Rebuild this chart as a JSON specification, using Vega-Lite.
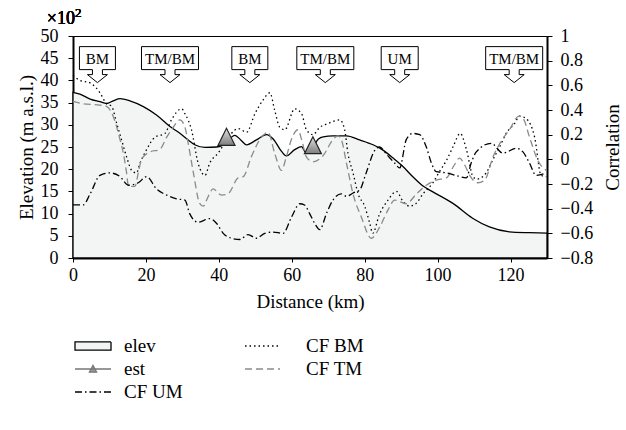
{
  "$schema": "https://vega.github.io/schema/vega-lite/v6.json",
  "width": 474,
  "height": 222,
  "autosize": "none",
  "padding": {"left": 73, "top": 36, "right": 79, "bottom": 172},
  "background": "white",
  "datasets": {
    "elev": [
      {"km": 0, "elev": 37.3}, {"km": 1.9, "elev": 36.9}, {"km": 4.7, "elev": 35.8}, {"km": 7.4, "elev": 35.2},
      {"km": 9.2, "elev": 34.8}, {"km": 11, "elev": 35.4}, {"km": 12.9, "elev": 35.9}, {"km": 15.6, "elev": 35.4},
      {"km": 19.3, "elev": 34.1}, {"km": 22.9, "elev": 32.2}, {"km": 26.6, "elev": 29.6}, {"km": 29.3, "elev": 28.1},
      {"km": 31.6, "elev": 26.6}, {"km": 33.4, "elev": 25.5}, {"km": 36.2, "elev": 24.9}, {"km": 39.4, "elev": 25.0},
      {"km": 41.5, "elev": 25.6}, {"km": 44.4, "elev": 27.6}, {"km": 46, "elev": 26.6}, {"km": 47.6, "elev": 25.5},
      {"km": 50.3, "elev": 26.6}, {"km": 53.1, "elev": 27.8}, {"km": 54.9, "elev": 26.8}, {"km": 57.2, "elev": 24.0},
      {"km": 58.5, "elev": 23.0}, {"km": 60.8, "elev": 24.4}, {"km": 62.7, "elev": 25.1}, {"km": 63.8, "elev": 23.8},
      {"km": 65.2, "elev": 24.2}, {"km": 67.3, "elev": 26.8}, {"km": 68.6, "elev": 27.3}, {"km": 71.3, "elev": 27.5},
      {"km": 75, "elev": 27.5}, {"km": 78.6, "elev": 26.6}, {"km": 82.3, "elev": 25.5}, {"km": 85, "elev": 24.3},
      {"km": 87.8, "elev": 22.5}, {"km": 90.5, "elev": 20.6}, {"km": 93.2, "elev": 18.3}, {"km": 96, "elev": 16.2},
      {"km": 98.7, "elev": 14.9}, {"km": 104.2, "elev": 12.3}, {"km": 109.7, "elev": 8.9}, {"km": 114.2, "elev": 7.0},
      {"km": 119.7, "elev": 5.9}, {"km": 125.2, "elev": 5.7}, {"km": 130, "elev": 5.6}
    ],
    "est": [
      {"km": 42.1, "elev": 27.3, "series": "est"},
      {"km": 65.8, "elev": 25.4, "series": "est"}
    ],
    "callouts": [
      {"km": 6.7, "label": "BM"},
      {"km": 26.6, "label": "TM/BM"},
      {"km": 48.5, "label": "BM"},
      {"km": 69.2, "label": "TM/BM"},
      {"km": 89.6, "label": "UM"},
      {"km": 121, "label": "TM/BM"}
    ],
    "corr": [
      {"series": "CF BM", "km": 0, "corr": 0.68}, {"series": "CF BM", "km": 1.9, "corr": 0.64}, {"series": "CF BM", "km": 4.7, "corr": 0.62},
      {"series": "CF BM", "km": 7.4, "corr": 0.54}, {"series": "CF BM", "km": 9.2, "corr": 0.45}, {"series": "CF BM", "km": 10.6, "corr": 0.43},
      {"series": "CF BM", "km": 12, "corr": 0.29}, {"series": "CF BM", "km": 13.3, "corr": 0.16}, {"series": "CF BM", "km": 14.7, "corr": 0.02},
      {"series": "CF BM", "km": 16.1, "corr": -0.09}, {"series": "CF BM", "km": 17.4, "corr": -0.11}, {"series": "CF BM", "km": 18.4, "corr": -0.03},
      {"series": "CF BM", "km": 20.2, "corr": 0.08}, {"series": "CF BM", "km": 22.5, "corr": 0.18}, {"series": "CF BM", "km": 25.2, "corr": 0.21},
      {"series": "CF BM", "km": 27, "corr": 0.32}, {"series": "CF BM", "km": 29.8, "corr": 0.41}, {"series": "CF BM", "km": 30.7, "corr": 0.37},
      {"series": "CF BM", "km": 32.5, "corr": 0.24}, {"series": "CF BM", "km": 34.3, "corr": -0.03}, {"series": "CF BM", "km": 36.2, "corr": -0.13},
      {"series": "CF BM", "km": 37.5, "corr": -0.03}, {"series": "CF BM", "km": 39.8, "corr": 0.05}, {"series": "CF BM", "km": 41.6, "corr": 0.13},
      {"series": "CF BM", "km": 45.3, "corr": 0.25}, {"series": "CF BM", "km": 47.6, "corr": 0.22}, {"series": "CF BM", "km": 49.9, "corr": 0.37},
      {"series": "CF BM", "km": 52.1, "corr": 0.48}, {"series": "CF BM", "km": 54, "corr": 0.54}, {"series": "CF BM", "km": 55.3, "corr": 0.40},
      {"series": "CF BM", "km": 56.7, "corr": 0.26}, {"series": "CF BM", "km": 58.1, "corr": 0.24}, {"series": "CF BM", "km": 60.8, "corr": 0.41},
      {"series": "CF BM", "km": 62.7, "corr": 0.37}, {"series": "CF BM", "km": 64, "corr": 0.24}, {"series": "CF BM", "km": 65.8, "corr": 0.20},
      {"series": "CF BM", "km": 67.7, "corr": 0.26}, {"series": "CF BM", "km": 69.9, "corr": 0.29}, {"series": "CF BM", "km": 73.2, "corr": 0.32},
      {"series": "CF BM", "km": 74.5, "corr": 0.24}, {"series": "CF BM", "km": 75.4, "corr": 0.05}, {"series": "CF BM", "km": 76.8, "corr": -0.11},
      {"series": "CF BM", "km": 78.2, "corr": -0.28}, {"series": "CF BM", "km": 80, "corr": -0.38}, {"series": "CF BM", "km": 81.4, "corr": -0.52},
      {"series": "CF BM", "km": 82.2, "corr": -0.6}, {"series": "CF BM", "km": 84, "corr": -0.45}, {"series": "CF BM", "km": 86.4, "corr": -0.33},
      {"series": "CF BM", "km": 88.7, "corr": -0.26}, {"series": "CF BM", "km": 90.5, "corr": -0.34}, {"series": "CF BM", "km": 92.3, "corr": -0.38},
      {"series": "CF BM", "km": 94, "corr": -0.36}, {"series": "CF BM", "km": 96, "corr": -0.28}, {"series": "CF BM", "km": 98.7, "corr": -0.19},
      {"series": "CF BM", "km": 100.5, "corr": -0.1}, {"series": "CF BM", "km": 102.4, "corr": -0.01}, {"series": "CF BM", "km": 104.2, "corr": 0.1},
      {"series": "CF BM", "km": 106.2, "corr": 0.21}, {"series": "CF BM", "km": 107.9, "corr": 0.08}, {"series": "CF BM", "km": 109.7, "corr": -0.14},
      {"series": "CF BM", "km": 110.8, "corr": -0.16}, {"series": "CF BM", "km": 113.3, "corr": -0.11}, {"series": "CF BM", "km": 115.2, "corr": 0.0},
      {"series": "CF BM", "km": 117, "corr": 0.10}, {"series": "CF BM", "km": 118.8, "corr": 0.21}, {"series": "CF BM", "km": 121.1, "corr": 0.29},
      {"series": "CF BM", "km": 122.5, "corr": 0.35}, {"series": "CF BM", "km": 124.3, "corr": 0.33}, {"series": "CF BM", "km": 126.6, "corr": 0.18},
      {"series": "CF BM", "km": 128.4, "corr": -0.13}, {"series": "CF BM", "km": 129.8, "corr": -0.14},

      {"series": "CF TM", "km": 0, "corr": 0.47}, {"series": "CF TM", "km": 2.8, "corr": 0.45}, {"series": "CF TM", "km": 7.4, "corr": 0.44},
      {"series": "CF TM", "km": 9.2, "corr": 0.43}, {"series": "CF TM", "km": 11, "corr": 0.35}, {"series": "CF TM", "km": 12.9, "corr": 0.16},
      {"series": "CF TM", "km": 13.8, "corr": 0.05}, {"series": "CF TM", "km": 14.7, "corr": -0.11}, {"series": "CF TM", "km": 15.2, "corr": -0.22},
      {"series": "CF TM", "km": 17, "corr": -0.22}, {"series": "CF TM", "km": 17.9, "corr": -0.11}, {"series": "CF TM", "km": 18.8, "corr": 0.0},
      {"series": "CF TM", "km": 21.1, "corr": 0.06}, {"series": "CF TM", "km": 23.8, "corr": 0.08}, {"series": "CF TM", "km": 25.7, "corr": 0.18},
      {"series": "CF TM", "km": 27.5, "corr": 0.26}, {"series": "CF TM", "km": 29.3, "corr": 0.32}, {"series": "CF TM", "km": 30.7, "corr": 0.26},
      {"series": "CF TM", "km": 31.6, "corr": 0.13}, {"series": "CF TM", "km": 32.9, "corr": -0.09}, {"series": "CF TM", "km": 34.8, "corr": -0.36},
      {"series": "CF TM", "km": 35.7, "corr": -0.38}, {"series": "CF TM", "km": 37.1, "corr": -0.30}, {"series": "CF TM", "km": 38.4, "corr": -0.24},
      {"series": "CF TM", "km": 40.7, "corr": -0.29}, {"series": "CF TM", "km": 42.5, "corr": -0.28}, {"series": "CF TM", "km": 45.3, "corr": -0.15},
      {"series": "CF TM", "km": 46.7, "corr": -0.14}, {"series": "CF TM", "km": 48.9, "corr": 0.02}, {"series": "CF TM", "km": 51.7, "corr": 0.18},
      {"series": "CF TM", "km": 53.5, "corr": 0.22}, {"series": "CF TM", "km": 55.3, "corr": 0.05}, {"series": "CF TM", "km": 57.2, "corr": -0.09},
      {"series": "CF TM", "km": 58.5, "corr": 0.02}, {"series": "CF TM", "km": 59.9, "corr": 0.16}, {"series": "CF TM", "km": 61.7, "corr": 0.24},
      {"series": "CF TM", "km": 62.7, "corr": 0.16}, {"series": "CF TM", "km": 64, "corr": 0.02}, {"series": "CF TM", "km": 65.8, "corr": -0.02},
      {"series": "CF TM", "km": 68.6, "corr": 0.03}, {"series": "CF TM", "km": 71.3, "corr": 0.16}, {"series": "CF TM", "km": 72.7, "corr": 0.19},
      {"series": "CF TM", "km": 73.6, "corr": 0.16}, {"series": "CF TM", "km": 75, "corr": -0.03}, {"series": "CF TM", "km": 76.8, "corr": -0.28},
      {"series": "CF TM", "km": 79.1, "corr": -0.47}, {"series": "CF TM", "km": 81.8, "corr": -0.64}, {"series": "CF TM", "km": 84.1, "corr": -0.55},
      {"series": "CF TM", "km": 86.4, "corr": -0.41}, {"series": "CF TM", "km": 88.2, "corr": -0.33}, {"series": "CF TM", "km": 91.4, "corr": -0.36},
      {"series": "CF TM", "km": 94.2, "corr": -0.28}, {"series": "CF TM", "km": 96.9, "corr": -0.21}, {"series": "CF TM", "km": 99.5, "corr": -0.17},
      {"series": "CF TM", "km": 102.4, "corr": -0.15}, {"series": "CF TM", "km": 104.5, "corr": -0.05}, {"series": "CF TM", "km": 106, "corr": 0.01},
      {"series": "CF TM", "km": 107.5, "corr": -0.05}, {"series": "CF TM", "km": 108.8, "corr": -0.13}, {"series": "CF TM", "km": 111, "corr": -0.19},
      {"series": "CF TM", "km": 112.9, "corr": -0.17}, {"series": "CF TM", "km": 115.2, "corr": 0.02}, {"series": "CF TM", "km": 117.5, "corr": 0.15},
      {"series": "CF TM", "km": 119.7, "corr": 0.24}, {"series": "CF TM", "km": 122.3, "corr": 0.35}, {"series": "CF TM", "km": 123.5, "corr": 0.33},
      {"series": "CF TM", "km": 125.2, "corr": 0.18}, {"series": "CF TM", "km": 127.5, "corr": -0.01}, {"series": "CF TM", "km": 129.8, "corr": -0.09},

      {"series": "CF UM", "km": 0, "corr": -0.37}, {"series": "CF UM", "km": 2.8, "corr": -0.37}, {"series": "CF UM", "km": 4.7, "corr": -0.28},
      {"series": "CF UM", "km": 7.4, "corr": -0.13}, {"series": "CF UM", "km": 10.1, "corr": -0.11}, {"series": "CF UM", "km": 12.9, "corr": -0.14},
      {"series": "CF UM", "km": 15.2, "corr": -0.21}, {"series": "CF UM", "km": 17.9, "corr": -0.19}, {"series": "CF UM", "km": 20.2, "corr": -0.14},
      {"series": "CF UM", "km": 22.9, "corr": -0.24}, {"series": "CF UM", "km": 25.7, "corr": -0.29}, {"series": "CF UM", "km": 28.4, "corr": -0.32},
      {"series": "CF UM", "km": 30.7, "corr": -0.33}, {"series": "CF UM", "km": 32, "corr": -0.44}, {"series": "CF UM", "km": 34.3, "corr": -0.51},
      {"series": "CF UM", "km": 37.5, "corr": -0.48}, {"series": "CF UM", "km": 39.4, "corr": -0.52}, {"series": "CF UM", "km": 41.2, "corr": -0.60},
      {"series": "CF UM", "km": 43.5, "corr": -0.64}, {"series": "CF UM", "km": 45.8, "corr": -0.65}, {"series": "CF UM", "km": 48, "corr": -0.61},
      {"series": "CF UM", "km": 50.3, "corr": -0.64}, {"series": "CF UM", "km": 52.6, "corr": -0.60}, {"series": "CF UM", "km": 54.9, "corr": -0.59},
      {"series": "CF UM", "km": 57.6, "corr": -0.60}, {"series": "CF UM", "km": 59.9, "corr": -0.47}, {"series": "CF UM", "km": 62.2, "corr": -0.36},
      {"series": "CF UM", "km": 63.5, "corr": -0.37}, {"series": "CF UM", "km": 64.9, "corr": -0.44}, {"series": "CF UM", "km": 66.3, "corr": -0.52},
      {"series": "CF UM", "km": 67.7, "corr": -0.57}, {"series": "CF UM", "km": 69.5, "corr": -0.44}, {"series": "CF UM", "km": 71.3, "corr": -0.33},
      {"series": "CF UM", "km": 73.6, "corr": -0.28}, {"series": "CF UM", "km": 75, "corr": -0.30}, {"series": "CF UM", "km": 77, "corr": -0.27},
      {"series": "CF UM", "km": 78.6, "corr": -0.25}, {"series": "CF UM", "km": 80.4, "corr": -0.11}, {"series": "CF UM", "km": 82.7, "corr": 0.07},
      {"series": "CF UM", "km": 84.1, "corr": 0.10}, {"series": "CF UM", "km": 86, "corr": 0.04}, {"series": "CF UM", "km": 88.2, "corr": -0.03},
      {"series": "CF UM", "km": 89.6, "corr": -0.07}, {"series": "CF UM", "km": 91.4, "corr": 0.16}, {"series": "CF UM", "km": 93.2, "corr": 0.21},
      {"series": "CF UM", "km": 95.1, "corr": 0.20}, {"series": "CF UM", "km": 96.9, "corr": 0.10}, {"series": "CF UM", "km": 98.3, "corr": -0.03},
      {"series": "CF UM", "km": 99.6, "corr": -0.10}, {"series": "CF UM", "km": 102.4, "corr": -0.11}, {"series": "CF UM", "km": 105, "corr": -0.13},
      {"series": "CF UM", "km": 107.9, "corr": -0.15}, {"series": "CF UM", "km": 109.2, "corr": -0.03}, {"series": "CF UM", "km": 110.6, "corr": 0.06},
      {"series": "CF UM", "km": 114.7, "corr": 0.13}, {"series": "CF UM", "km": 117.9, "corr": 0.05}, {"series": "CF UM", "km": 121.6, "corr": 0.09},
      {"series": "CF UM", "km": 123.4, "corr": 0.06}, {"series": "CF UM", "km": 125.2, "corr": -0.03}, {"series": "CF UM", "km": 127, "corr": -0.13},
      {"series": "CF UM", "km": 129.8, "corr": -0.11}
    ]
  },
  "layer": [
    {
      "data": {"name": "elev"},
      "mark": {"type": "area", "fill": "#f3f5f4", "stroke": "black", "strokeWidth": 1.3, "interpolate": "monotone"},
      "encoding": {
        "x": {"field": "km", "type": "quantitative", "scale": {"domain": [0, 130], "nice": false},
          "axis": {"title": "Distance (km)", "values": [0, 10, 20, 30, 40, 50, 60, 70, 80, 90, 100, 110, 120, 130],
            "labelExpr": "datum.value % 20 === 0 ? datum.label : ''", "tickSize": 4, "labelPadding": 4, "titlePadding": 8, "domainWidth": 2}},
        "y": {"field": "elev", "type": "quantitative", "scale": {"domain": [0, 50], "nice": false},
          "axis": {"title": "Elevation (m a.s.l.)", "orient": "left", "values": [0, 5, 10, 15, 20, 25, 30, 35, 40, 45, 50],
            "tickSize": 5, "labelPadding": 10, "titlePadding": 4, "domainWidth": 2}}
      }
    },
    {
      "data": {"name": "corr"},
      "mark": {"type": "line", "strokeWidth": 1.3, "interpolate": "monotone"},
      "encoding": {
        "x": {"field": "km", "type": "quantitative"},
        "y": {"field": "corr", "type": "quantitative", "scale": {"domain": [-0.8, 1], "nice": false},
          "axis": {"title": "Correlation", "orient": "right", "values": [-0.8, -0.6, -0.4, -0.2, 0, 0.2, 0.4, 0.6, 0.8, 1],
            "format": ".1~f", "tickSize": 5, "labelPadding": 8, "titlePadding": 11, "titleAngle": 270, "titleBaseline": "top", "domainWidth": 2}},
        "color": {"field": "series", "type": "nominal",
          "scale": {"domain": ["elev", "est", "CF UM", "CF BM", "CF TM"], "range": ["black", "#777777", "black", "black", "#8a8a8a"]},
          "legend": {
            "orient": "none", "legendX": 1, "legendY": 300, "columns": 2, "title": null,
            "symbolSize": 324, "symbolStrokeWidth": 1.3, "labelOffset": 30, "rowPadding": 3, "columnPadding": 59, "padding": 0,
            "labelFontSize": 19, "labelColor": "black",
            "encode": {
              "symbols": {
                "update": {
                  "shape": {"signal": "datum.value === 'elev' ? 'M-1,-0.45L3,-0.45L3,0.45L-1,0.45Z' : datum.value === 'est' ? 'M-1,0L3,0M0.6,0.35L1,-0.4L1.4,0.35Z' : datum.value === 'CF UM' ? 'M-1,0L3,0' : 'M-2.33,0L1.56,0'"},
                  "fill": {"signal": "datum.value === 'elev' ? '#f3f5f4' : datum.value === 'est' ? '#999999' : 'transparent'"},
                  "strokeDash": {"signal": "datum.value === 'CF BM' ? [1.5, 3] : datum.value === 'CF TM' ? [7, 4] : datum.value === 'CF UM' ? [7, 3, 1.5, 3] : [1, 0]"}
                }
              }
            }
          }},
        "strokeDash": {"field": "series", "type": "nominal",
          "scale": {"domain": ["elev", "est", "CF UM", "CF BM", "CF TM"], "range": [[1, 0], [1, 0], [7, 3, 1.5, 3], [1.5, 3], [7, 4]]},
          "legend": null}
      }
    },
    {
      "data": {"name": "est"},
      "mark": {"type": "point", "shape": "M0,-1L-1,1L1,1Z", "size": 289, "filled": true, "opacity": 1, "stroke": "#222222", "strokeWidth": 1.2,
        "fill": {"gradient": "linear", "x1": 0, "y1": 0, "x2": 0, "y2": 1, "stops": [{"offset": 0, "color": "#e2e2e2"}, {"offset": 1, "color": "#7d7d7d"}]}},
      "encoding": {
        "x": {"field": "km", "type": "quantitative"},
        "y": {"field": "elev", "type": "quantitative", "scale": {"domain": [0, 50], "nice": false}, "axis": null}
      }
    },
    {
      "data": {"name": "callouts"},
      "layer": [
        {
          "mark": {"type": "point", "filled": true, "fill": "white", "stroke": "black", "strokeWidth": 1, "opacity": 1, "size": 400},
          "encoding": {
            "x": {"field": "km", "type": "quantitative"},
            "y": {"datum": 39.5, "type": "quantitative", "scale": {"domain": [0, 50], "nice": false}, "axis": null},
            "shape": {"field": "label", "type": "nominal",
              "scale": {"domain": ["BM", "TM/BM", "UM"],
                "range": ["M0,0L-1,-0.8L-0.5,-0.8L-0.5,-1.3L-1.8,-1.3L-1.8,-3.6L1.8,-3.6L1.8,-1.3L0.5,-1.3L0.5,-0.8L1,-0.8Z",
                          "M0,0L-1,-0.8L-0.5,-0.8L-0.5,-1.3L-2.85,-1.3L-2.85,-3.6L2.85,-3.6L2.85,-1.3L0.5,-1.3L0.5,-0.8L1,-0.8Z",
                          "M0,0L-1,-0.8L-0.5,-0.8L-0.5,-1.3L-1.85,-1.3L-1.85,-3.6L1.85,-3.6L1.85,-1.3L0.5,-1.3L0.5,-0.8L1,-0.8Z"]},
              "legend": null}
          }
        },
        {
          "mark": {"type": "text", "fontSize": 15, "color": "black", "baseline": "middle", "align": "center", "dy": -24},
          "encoding": {
            "x": {"field": "km", "type": "quantitative"},
            "y": {"datum": 39.5, "type": "quantitative"},
            "text": {"field": "label"}
          }
        },
        {
          "mark": {"type": "text", "fontSize": 18, "color": "black", "baseline": "alphabetic", "align": "right", "dx": 2, "dy": -12},
          "encoding": {
            "x": {"datum": 0, "type": "quantitative"},
            "y": {"datum": 50, "type": "quantitative"},
            "text": {"value": "×10"}
          }
        },
        {
          "mark": {"type": "text", "fontSize": 13, "color": "black", "baseline": "alphabetic", "align": "left", "dx": 2, "dy": -19},
          "encoding": {
            "x": {"datum": 0, "type": "quantitative"},
            "y": {"datum": 50, "type": "quantitative"},
            "text": {"value": "2"}
          }
        }
      ]
    }
  ],
  "resolve": {"scale": {"y": "independent", "shape": "independent", "color": "independent", "strokeDash": "independent"}},
  "config": {
    "font": "'Liberation Serif', 'Times New Roman', Times, 'DejaVu Serif', serif",
    "view": {"stroke": "black", "strokeWidth": 1},
    "axis": {"labelFont": "'Liberation Serif', 'Times New Roman', Times, 'DejaVu Serif', serif", "titleFont": "'Liberation Serif', 'Times New Roman', Times, 'DejaVu Serif', serif", "labelFontSize": 18, "titleFontSize": 19,
      "titleFontWeight": "normal", "labelColor": "black", "titleColor": "black", "domainColor": "black", "tickColor": "black",
      "grid": false, "labelFlush": false, "tickWidth": 1},
    "legend": {"labelFont": "'Liberation Serif', 'Times New Roman', Times, 'DejaVu Serif', serif"},
    "text": {"font": "'Liberation Serif', 'Times New Roman', Times, 'DejaVu Serif', serif"}
  }
}
